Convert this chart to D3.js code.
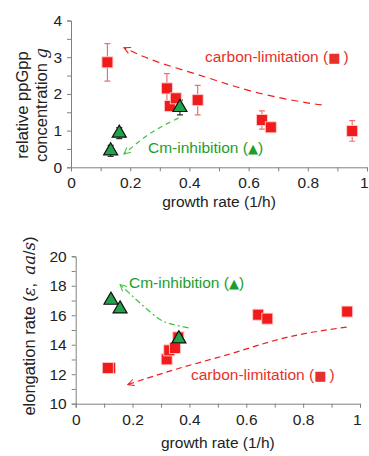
<!DOCTYPE html>
<html>
<head>
<meta charset="utf-8">
<script src="https://cdn.jsdelivr.net/npm/d3@7"></script>
<style>
  body { margin: 0; background: #fff; }
  svg { font-family: "Liberation Sans", Arial, sans-serif; }
  .axis path, .axis line { stroke: #808080; }
  .axis text { fill: #222; font-size: 15.5px; }
</style>
</head>
<body>
<svg id="chart" width="369" height="456"></svg>
<script>
  'use strict';

  // Shared x ticks (growth rate, 1/h).
  var rateTicks = [ 0, 0.2, 0.4, 0.6, 0.8, 1 ],
      rateLabels = [ '0', '0.2', '0.4', '0.6', '0.8', '1' ];

  // Top panel: relative ppGpp concentration.
  var ppGppTicks = [ 0, 1, 2, 3, 4 ];
  var ppGppCarbonRate = [ 0.123, 0.324, 0.334, 0.354, 0.428, 0.645, 0.675, 0.95 ],
      ppGppCarbon     = [ 2.86, 2.15, 1.67, 1.88, 1.83, 1.29, 1.09, 0.99 ],
      ppGppCarbonErr  = [ 0.51, 0.40, 0, 0, 0.40, 0.25, 0, 0.28 ];
  var ppGppCmRate = [ 0.134, 0.163, 0.368 ],
      ppGppCm     = [ 0.45, 0.93, 1.63 ],
      ppGppCmErr  = [ 0.15, 0.15, 0.20 ];
  // Guide arrows, [rate, value], drawn from first to last point.
  var ppGppCarbonArrow = [ [ 0.847, 1.70 ], [ 0.774, 1.79 ], [ 0.616, 2.06 ],
                           [ 0.458, 2.45 ], [ 0.29, 2.88 ], [ 0.179, 3.26 ] ];
  var ppGppCmArrow = [ [ 0.363, 1.34 ], [ 0.267, 0.92 ], [ 0.179, 0.36 ] ];

  // Bottom panel: elongation rate.
  var elongTicks = [ 10, 12, 14, 16, 18, 20 ];
  var elongCarbonRate = [ 0.121, 0.113, 0.320, 0.329, 0.349, 0.361, 0.642, 0.674, 0.955 ],
      elongCarbon     = [ 12.42, 12.42, 13.01, 13.62, 13.78, 14.5, 16.04, 15.77, 16.25 ];
  var elongCmRate = [ 0.124, 0.156, 0.363 ],
      elongCm     = [ 17.02, 16.43, 14.4 ];
  var elongCmArrow = [ [ 0.397, 15.14 ], [ 0.326, 15.46 ], [ 0.267, 16.14 ], [ 0.156, 18.08 ] ];
  var elongCarbonArrow = [ [ 0.953, 15.2 ], [ 0.742, 14.5 ], [ 0.554, 13.44 ],
                           [ 0.367, 12.42 ], [ 0.183, 11.3 ] ];

  var red       = '#f01c1c',
      redText   = '#e8302a',
      redError  = '#f07070',
      green     = '#22a24a',
      greenText = '#1d9e2c',
      greenLine = '#40c040';

  var svg = d3.select( '#chart' );

  // Open chevron arrowheads.
  var defs = svg.append( 'defs' );
  [ [ 'head-red', red ], [ 'head-green', greenLine ] ].forEach( function( m ) {
    defs.append( 'marker' )
        .attr( 'id', m[0] )
        .attr( 'viewBox', '0 0 10 10' )
        .attr( 'refX', 9 ).attr( 'refY', 5 )
        .attr( 'markerWidth', 8 ).attr( 'markerHeight', 8 )
        .attr( 'markerUnits', 'userSpaceOnUse' )
        .attr( 'orient', 'auto' )
      .append( 'path' )
        .attr( 'd', 'M1,1 L9,5 L1,9' )
        .attr( 'fill', 'none' )
        .attr( 'stroke', m[1] )
        .attr( 'stroke-width', 1.3 );
  });

  function panel( opts ) {
    var x = d3.scaleLinear().domain( [ 0, 1 ] ).range( opts.xRange ),
        y = d3.scaleLinear().domain( opts.yDomain ).range( opts.yRange );
    var g = svg.append( 'g' );

    // Minor ticks.
    g.append( 'g' )
        .attr( 'class', 'axis' )
        .attr( 'transform', 'translate(0,' + opts.yRange[0] + ')' )
        .call( d3.axisBottom( x ).tickValues( d3.range( 1, 10, 2 ).map( function( v ) { return v / 10; } ) )
          .tickSize( 4 ).tickFormat( '' ) )
        .select( '.domain' ).remove();
    g.append( 'g' )
        .attr( 'class', 'axis' )
        .attr( 'transform', 'translate(' + opts.xRange[0] + ',0)' )
        .call( d3.axisLeft( y ).tickValues( opts.yMinor ).tickSize( 4 ).tickFormat( '' ) )
        .select( '.domain' ).remove();

    // Major axes.
    var xAxis = g.append( 'g' )
        .attr( 'class', 'axis' )
        .attr( 'transform', 'translate(0,' + opts.yRange[0] + ')' )
        .call( d3.axisBottom( x ).tickValues( rateTicks ).tickSizeOuter( 0 ).tickSize( 4 )
          .tickPadding( 6 )
          .tickFormat( function( d, i ) { return rateLabels[i]; } ) );
    // Keep the last label inside the page, as in the original.
    xAxis.selectAll( '.tick' ).filter( function( d ) { return d === 1; } )
      .select( 'text' )
        .attr( 'text-anchor', 'end' )
        .attr( 'dx', 1 );

    g.append( 'g' )
        .attr( 'class', 'axis' )
        .attr( 'transform', 'translate(' + opts.xRange[0] + ',0)' )
        .call( d3.axisLeft( y ).tickValues( opts.yTicks ).tickSizeOuter( 0 ).tickSize( 4 )
          .tickPadding( 5 ).tickFormat( d3.format( 'd' ) ) );

    g.append( 'text' )
        .attr( 'x', ( opts.xRange[0] + opts.xRange[1] ) / 2 )
        .attr( 'y', opts.xTitleY )
        .attr( 'text-anchor', 'middle' )
        .style( 'font-size', '15.5px' )
        .style( 'fill', '#222' )
        .text( 'growth rate (1/h)' );

    var line = d3.line()
        .x( function( d ) { return x( d[0] ); } )
        .y( function( d ) { return y( d[1] ); } )
        .curve( d3.curveNatural );

    opts.arrows.forEach( function( a ) {
      g.append( 'path' )
          .attr( 'd', line( a.points ) )
          .attr( 'fill', 'none' )
          .attr( 'stroke', a.color )
          .attr( 'stroke-width', 1.2 )
          .attr( 'stroke-dasharray', a.dash )
          .attr( 'marker-end', 'url(#' + a.marker + ')' );
    });

    // Error bars.
    opts.errors.forEach( function( e ) {
      e.rate.forEach( function( r, i ) {
        var err = e.err[i];
        if ( !err ) { return; }
        var cx = x( r ), y0 = y( e.value[i] - err ), y1 = y( e.value[i] + err );
        g.append( 'path' )
            .attr( 'd', 'M' + cx + ',' + y0 + 'V' + y1 +
                        'M' + ( cx - 3 ) + ',' + y0 + 'H' + ( cx + 3 ) +
                        'M' + ( cx - 3 ) + ',' + y1 + 'H' + ( cx + 3 ) )
            .attr( 'stroke', e.color )
            .attr( 'stroke-width', 1.2 )
            .attr( 'fill', 'none' );
      });
    });

    g.selectAll( 'rect.sq' )
      .data( opts.squares.rate )
      .enter().append( 'rect' )
        .attr( 'class', 'sq' )
        .attr( 'x', function( d ) { return x( d ) - 5.5; } )
        .attr( 'y', function( d, i ) { return y( opts.squares.value[i] ) - 5.5; } )
        .attr( 'width', 11 ).attr( 'height', 11 )
        .attr( 'fill', red )
        .attr( 'stroke', '#fcc' )
        .attr( 'stroke-width', 0.9 );

    var tri = d3.symbol().type( d3.symbolTriangle ).size( 85 );
    g.selectAll( 'path.tri' )
      .data( opts.triangles.rate )
      .enter().append( 'path' )
        .attr( 'class', 'tri' )
        .attr( 'd', tri )
        .attr( 'transform', function( d, i ) {
          return 'translate(' + x( d ) + ',' + y( opts.triangles.value[i] ) + ')';
        })
        .attr( 'fill', green )
        .attr( 'stroke', '#111' )
        .attr( 'stroke-width', 1.2 );

    opts.labels.forEach( function( l ) {
      var t = g.append( 'text' )
          .attr( 'x', l.x ).attr( 'y', l.y )
          .style( 'font-size', '15.5px' )
          .style( 'fill', l.color );
      t.append( 'tspan' ).text( l.text + ' (' );
      t.append( 'tspan' ).style( 'font-family', 'DejaVu Sans' ).style( 'font-size', '13px' ).text( l.glyph );
      t.append( 'tspan' ).text( l.glyph === '■' ? '\u2009)' : ')' );
    });

    return g;
  }

  panel({
    xRange: [ 71, 367 ], yDomain: [ 0, 4 ], yRange: [ 167.3, 20.5 ],
    yTicks: ppGppTicks, yMinor: [ 0.5, 1.5, 2.5, 3.5 ],
    xTitleY: 207,
    squares: { rate: ppGppCarbonRate, value: ppGppCarbon },
    triangles: { rate: ppGppCmRate, value: ppGppCm },
    errors: [
      { rate: ppGppCarbonRate, value: ppGppCarbon, err: ppGppCarbonErr, color: redError },
      { rate: ppGppCmRate, value: ppGppCm, err: ppGppCmErr, color: '#333' }
    ],
    arrows: [
      { points: ppGppCarbonArrow, color: red, dash: '7,5', marker: 'head-red' },
      { points: ppGppCmArrow, color: greenLine, dash: '5,4', marker: 'head-green' }
    ],
    labels: [
      { x: 205, y: 62, text: 'carbon-limitation', glyph: '■', color: redText },
      { x: 148, y: 153, text: 'Cm-inhibition', glyph: '▲', color: greenText }
    ]
  });

  panel({
    xRange: [ 75.7, 360 ], yDomain: [ 10, 20 ], yRange: [ 403.7, 256.3 ],
    yTicks: elongTicks, yMinor: [ 11, 13, 15, 17, 19 ],
    xTitleY: 448,
    squares: { rate: elongCarbonRate, value: elongCarbon },
    triangles: { rate: elongCmRate, value: elongCm },
    errors: [],
    arrows: [
      { points: elongCmArrow, color: greenLine, dash: '6,3,2,3', marker: 'head-green' },
      { points: elongCarbonArrow, color: red, dash: '6,4', marker: 'head-red' }
    ],
    labels: [
      { x: 129, y: 288, text: 'Cm-inhibition', glyph: '▲', color: greenText },
      { x: 191, y: 380, text: 'carbon-limitation', glyph: '■', color: redText }
    ]
  });

  // Y axis titles.
  var topTitle = svg.append( 'text' )
      .attr( 'transform', 'translate(0,105) rotate(-90)' )
      .attr( 'text-anchor', 'middle' )
      .style( 'font-size', '16.5px' )
      .style( 'fill', '#222' );
  topTitle.append( 'tspan' ).attr( 'x', 0 ).attr( 'y', 28 ).text( 'relative ppGpp' );
  var second = topTitle.append( 'tspan' ).attr( 'x', 0 ).attr( 'y', 47 );
  second.append( 'tspan' ).text( 'concentration ' );
  second.append( 'tspan' ).style( 'font-style', 'italic' ).style( 'font-family', 'DejaVu Serif, serif' ).text( 'g' );

  var bottomTitle = svg.append( 'text' )
      .attr( 'transform', 'translate(35,326) rotate(-90)' )
      .attr( 'text-anchor', 'middle' )
      .style( 'font-size', '16.5px' )
      .style( 'fill', '#222' );
  bottomTitle.append( 'tspan' ).text( 'elongation rate (' );
  bottomTitle.append( 'tspan' ).style( 'font-style', 'italic' ).style( 'font-family', 'DejaVu Serif, serif' ).text( 'ε' );
  bottomTitle.append( 'tspan' ).text( ',\u2002' );
  bottomTitle.append( 'tspan' ).style( 'font-style', 'italic' ).style( 'font-family', 'DejaVu Serif, serif' ).text( 'aa' );
  bottomTitle.append( 'tspan' ).text( '/' );
  bottomTitle.append( 'tspan' ).style( 'font-style', 'italic' ).style( 'font-family', 'DejaVu Serif, serif' ).text( 's' );
  bottomTitle.append( 'tspan' ).text( ')' );
</script>
</body>
</html>
